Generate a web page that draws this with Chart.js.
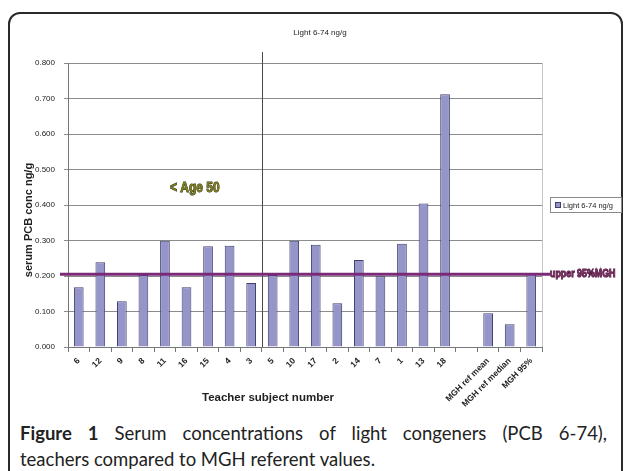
<!DOCTYPE html>
<html>
<head>
<meta charset="utf-8">
<script src="https://cdn.jsdelivr.net/npm/chart.js@4"></script>
<style>
  html, body { margin: 0; padding: 0; background: #fff; }
  body { width: 627px; height: 471px; position: relative; overflow: hidden; }
  .frame {
    position: absolute; left: 8px; top: 12px; width: 611px; height: 500px;
    border: 2px solid #2a2a2a; border-radius: 12px;
  }
  #wrap { position: absolute; left: 0; top: 0; width: 627px; height: 410px; }
  .caption {
    position: absolute; left: 20px; top: 420px; width: 587px;
    font-family: Lato, "Open Sans", sans-serif; font-size: 18.5px; line-height: 26px;
    color: #222;
  }
  .caption .l1 { display: block; white-space: nowrap; text-align: justify; text-align-last: justify; }
  .caption .l2 { display: block; white-space: nowrap; }
  .caption b { font-weight: 700; }
</style>
</head>
<body>
<div class="frame"></div>
<div id="wrap"><canvas id="chart" width="627" height="410"></canvas></div>
<div class="caption"><span class="l1"><b>Figure 1</b> Serum concentrations of light congeners (PCB 6-74),</span><span class="l2">teachers compared to MGH referent values.</span></div>

<script>
(function () {
  'use strict';

  // ── Data ─────────────────────────────────────────────────────────────────────
  const youngerIds    = ['6', '12', '9', '8', '11', '16', '15', '4', '3'];
  const youngerValues = [0.168, 0.239, 0.129, 0.203, 0.299, 0.168, 0.284, 0.285, 0.180];
  const olderIds      = ['5', '10', '17', '2', '14', '7', '1', '13', '18'];
  const olderValues   = [0.203, 0.299, 0.288, 0.123, 0.245, 0.199, 0.291, 0.404, 0.712];
  const refLabels     = ['MGH ref mean', 'MGH ref median', 'MGH 95%'];
  const refValues     = [0.095, 0.064, 0.205];
  const upper95       = 0.205;
  const yMin = 0, yMax = 0.8, yStep = 0.1;

  const labels = [...youngerIds, ...olderIds, '', ...refLabels];
  const values = [...youngerValues, ...olderValues, null, ...refValues];

  const BAR_FILL   = '#9595c9';
  const BAR_EDGE   = '#3f3f6e';
  const LINE_COLOR = '#7b2a78';
  const SANS       = '"Liberation Sans", Arial, sans-serif';

  Chart.defaults.font.family = SANS;
  Chart.defaults.color = '#222';

  // outlined, horizontally squeezed text (stands in for a narrow bold face)
  function squeezed(ctx, text, x, y, sx, fill, stroke) {
    ctx.save();
    ctx.translate(x, y); ctx.scale(sx, 1);
    ctx.lineWidth = 1; ctx.strokeStyle = stroke; ctx.fillStyle = fill;
    ctx.strokeText(text, 0, 0);
    ctx.fillText(text, 0, 0);
    ctx.restore();
  }

  // ── Overlay: titles, divider, 95% line, legend ──────────────────────────────
  const overlay = {
    id: 'overlay',
    afterDatasetsDraw(chart) {
      const { ctx, chartArea: a, scales: { x, y } } = chart;
      ctx.save();

      // plot area right border
      ctx.strokeStyle = '#c4c4c4'; ctx.lineWidth = 1;
      ctx.beginPath(); ctx.moveTo(a.right + 0.5, a.top); ctx.lineTo(a.right + 0.5, a.bottom); ctx.stroke();

      // age divider between the two teacher groups
      const divX = Math.round((x.getPixelForValue(youngerIds.length - 1) + x.getPixelForValue(youngerIds.length)) / 2) + 0.5;
      ctx.strokeStyle = '#4a4a4a';
      ctx.beginPath(); ctx.moveTo(divX, a.top - 11); ctx.lineTo(divX, a.bottom); ctx.stroke();

      // upper 95% MGH reference line
      const ly = y.getPixelForValue(upper95);
      ctx.strokeStyle = LINE_COLOR; ctx.lineWidth = 3;
      ctx.beginPath(); ctx.moveTo(a.left - 8, ly); ctx.lineTo(a.right + 8, ly); ctx.stroke();

      ctx.textBaseline = 'middle'; ctx.textAlign = 'left';
      ctx.font = 'bold 11.5px ' + SANS;
      squeezed(ctx, 'upper 95%MGH', a.right + 8, ly, 0.77, '#7a2a60', '#3a0e30');

      // "< Age 50" note
      ctx.font = 'bold 15px ' + SANS;
      squeezed(ctx, '< Age 50', 170, 188, 0.8, '#7d7d26', '#34340c');

      // chart title
      ctx.textAlign = 'center';
      ctx.font = '8px ' + SANS;
      ctx.fillStyle = '#222';
      ctx.fillText('Light 6-74 ng/g', 320, 33);

      // axis titles
      ctx.font = 'bold 11.5px ' + SANS;
      ctx.fillText('Teacher subject number', 268, 398);
      ctx.save();
      ctx.translate(29, 220); ctx.rotate(-Math.PI / 2);
      ctx.font = 'bold 11px ' + SANS;
      ctx.fillText('serum PCB conc ng/g', 0, 0);
      ctx.restore();

      // legend
      ctx.fillStyle = '#fff'; ctx.strokeStyle = '#8a8a8a'; ctx.lineWidth = 1;
      ctx.fillRect(550.5, 197.5, 71, 15); ctx.strokeRect(550.5, 197.5, 71, 15);
      ctx.fillStyle = BAR_FILL; ctx.strokeStyle = BAR_EDGE;
      ctx.fillRect(555.5, 202.5, 5, 5); ctx.strokeRect(555.5, 202.5, 5, 5);
      ctx.fillStyle = '#222'; ctx.textAlign = 'left';
      ctx.font = '7.5px ' + SANS;
      ctx.fillText(chart.data.datasets[0].label, 563, 205.5);

      ctx.restore();
    }
  };

  new Chart(document.getElementById('chart'), {
    type: 'bar',
    data: {
      labels: labels,
      datasets: [{
        label: 'Light 6-74 ng/g',
        data: values,
        backgroundColor: BAR_FILL,
        borderColor: BAR_EDGE,
        borderWidth: 1,
        barPercentage: 0.45,
        categoryPercentage: 1.0,
      }]
    },
    options: {
      responsive: false,
      animation: false,
      layout: { padding: { left: 28, right: 85, top: 63, bottom: 0 } },
      plugins: { legend: { display: false }, title: { display: false }, tooltip: { enabled: false } },
      scales: {
        x: {
          afterFit: s => { s.height = 63; },
          grid: { display: true, drawOnChartArea: false, drawTicks: true, tickLength: 5, color: '#777' },
          border: { display: true, color: '#777' },
          ticks: {
            autoSkip: false, minRotation: 45, maxRotation: 45, padding: 4,
            font: { size: 8.5, weight: 'bold' }, color: '#222'
          }
        },
        y: {
          min: yMin, max: yMax,
          afterFit: s => { s.width = 40; },
          grid: { color: '#8c8c8c', tickLength: 4 },
          border: { display: true, color: '#777' },
          ticks: {
            stepSize: yStep, padding: 9,
            font: { size: 8 }, color: '#222',
            callback: v => Number(v).toFixed(3)
          }
        }
      }
    },
    plugins: [overlay]
  });
})();
</script>
</body>
</html>
